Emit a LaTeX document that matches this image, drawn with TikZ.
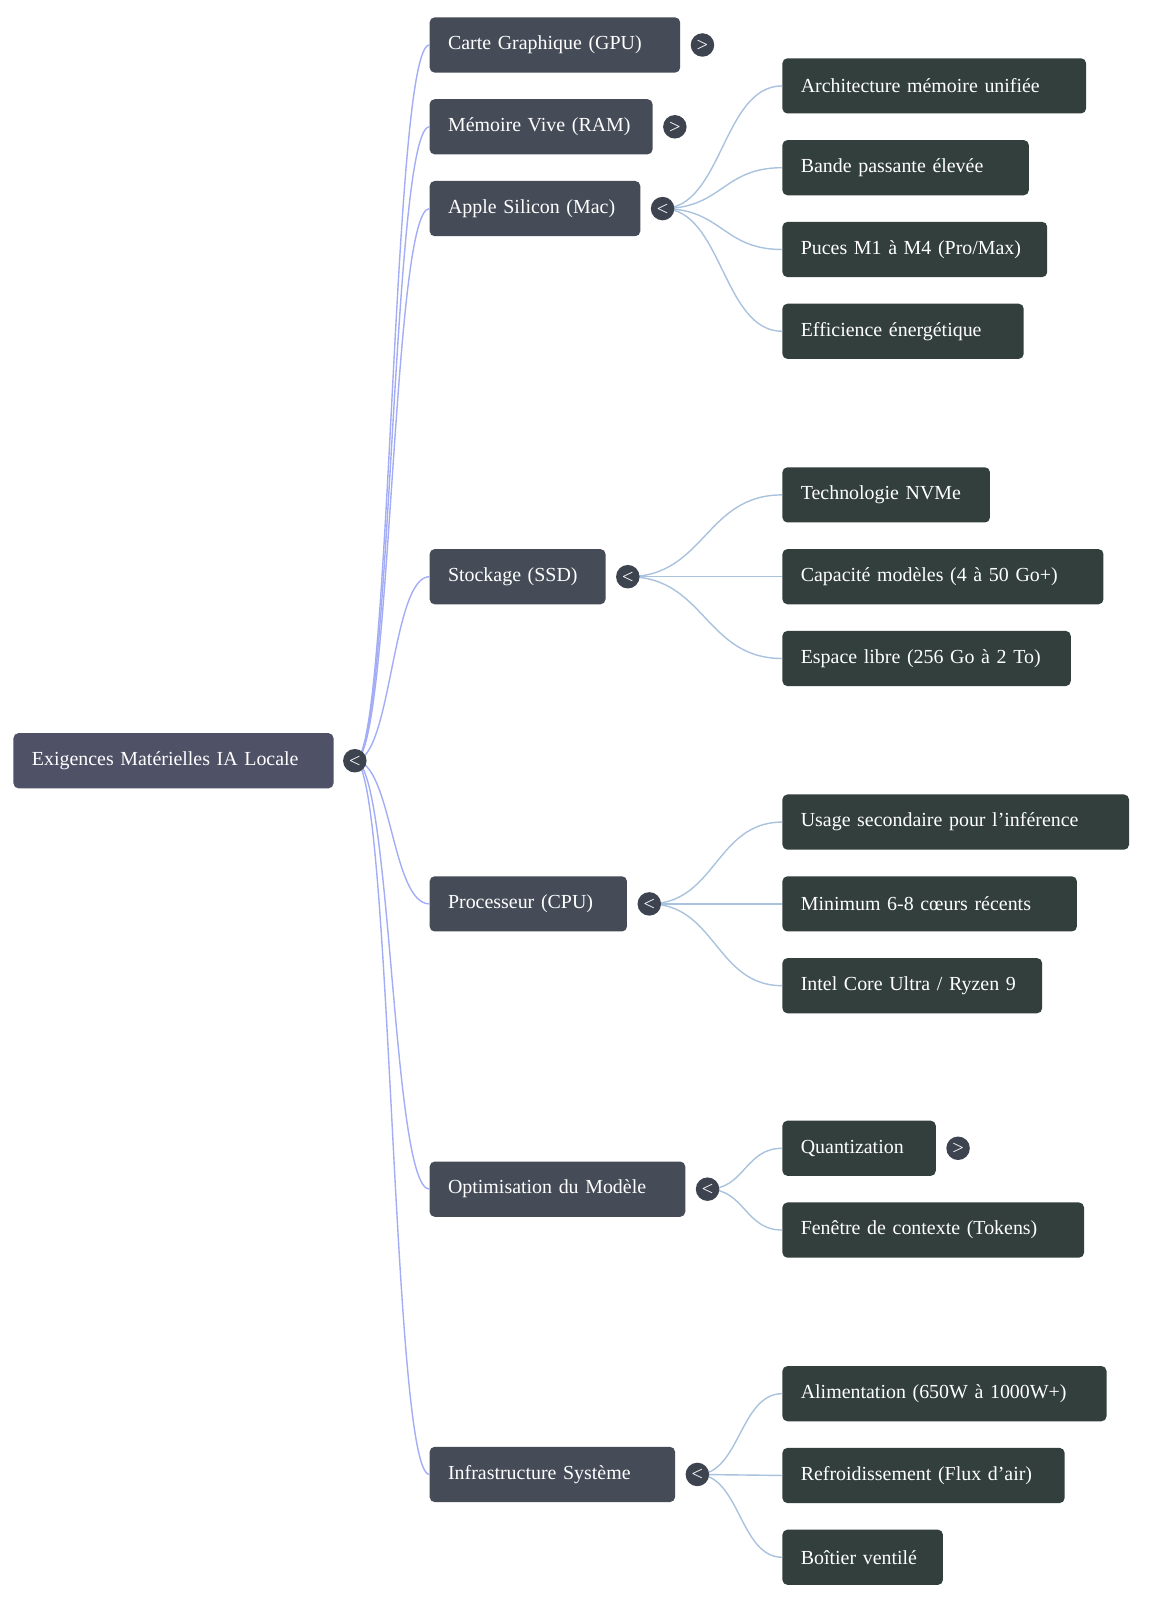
\documentclass[tikz,border=0pt]{standalone}
\usepackage{fontspec}
\setmainfont{Liberation Serif}
\definecolor{rootc}{HTML}{4F5166}
\definecolor{l1c}{HTML}{454B57}
\definecolor{l2c}{HTML}{323F3C}
\definecolor{e1}{HTML}{A3ADF5}
\definecolor{e2}{HTML}{A9C2DD}
\definecolor{tg}{HTML}{3E4350}
\newcommand\bx[6]{\node[#1,text width={(#5-#4-36)*1.0225bp}] (#2) at (#4,#6) {#3};}
\begin{document}
\begin{tikzpicture}[x=1.0225bp,y=-1.0225bp,
 box/.style={anchor=west,rounded corners=5bp,inner xsep=18.4bp,inner ysep=0pt,minimum height=55.2bp,text=white,font=\fontsize{20}{23}\selectfont,align=left},
 root/.style={box,fill=rootc},
 lone/.style={box,fill=l1c},
 ltwo/.style={box,fill=l2c},
 tog/.style={circle,fill=tg,inner sep=0pt,minimum size=23.5bp,text=white,font=\sffamily\bfseries\fontsize{14}{14}\selectfont},
 ea/.style={e1,line width=1.4bp},
 eb/.style={e2,line width=1.4bp}]
\path[use as bounding box] (0,0) rectangle (1148.2,1564.8);
\bx{root}{r}{Exigences Matérielles IA Locale}{13}{326}{744}
\bx{lone}{gpu}{Carte Graphique (GPU)}{420}{665}{44}
\bx{lone}{ram}{Mémoire Vive (RAM)}{420}{638}{124}
\bx{lone}{mac}{Apple Silicon (Mac)}{420}{626}{204}
\bx{lone}{ssd}{Stockage (SSD)}{420}{592}{564}
\bx{lone}{cpu}{Processeur (CPU)}{420}{613}{884}
\bx{lone}{opt}{Optimisation du Modèle}{420}{670}{1163}
\bx{lone}{inf}{Infrastructure Système}{420}{660}{1442}
\bx{ltwo}{a1}{Architecture mémoire unifiée}{765}{1062}{84}
\bx{ltwo}{a2}{Bande passante élevée}{765}{1006}{164}
\bx{ltwo}{a3}{Puces M1 à M4 (Pro/Max)}{765}{1024}{244}
\bx{ltwo}{a4}{Efficience énergétique}{765}{1001}{324}
\bx{ltwo}{s1}{Technologie NVMe}{765}{968}{484}
\bx{ltwo}{s2}{Capacité modèles (4 à 50 Go+)}{765}{1079}{564}
\bx{ltwo}{s3}{Espace libre (256 Go à 2 To)}{765}{1047}{644}
\bx{ltwo}{c1}{Usage secondaire pour l'inférence}{765}{1104}{804}
\bx{ltwo}{c2}{Minimum 6-8 cœurs récents}{765}{1053}{884}
\bx{ltwo}{c3}{Intel Core Ultra / Ryzen 9}{765}{1019}{964}
\bx{ltwo}{o1}{Quantization}{765}{915}{1123}
\bx{ltwo}{o2}{Fenêtre de contexte (Tokens)}{765}{1060}{1203}
\bx{ltwo}{i1}{Alimentation (650W à 1000W+)}{765}{1082}{1363}
\bx{ltwo}{i2}{Refroidissement (Flux d'air)}{765}{1041}{1443}
\bx{ltwo}{i3}{Boîtier ventilé}{765}{922}{1523}
% edges
\foreach \c/\y in {gpu/44,ram/124,mac/204,ssd/564,cpu/884,opt/1163,inf/1442}
  \draw[ea] (347,744) .. controls (383,744) and (383,\y) .. (\c.west);
\foreach \px/\py/\c/\y in {648/204/a1/84,648/204/a2/164,648/204/a3/244,648/204/a4/324,
  614/564/s1/484,614/564/s2/564,614/564/s3/644,
  635/884/c1/804,635/884/c2/884,635/884/c3/964,
  692/1163/o1/1123,692/1163/o2/1203,
  682/1442/i1/1363,682/1442/i2/1443,682/1442/i3/1523}
  \draw[eb] (\px,\py) .. controls ({(\px+765)/2},\py) and ({(\px+765)/2},\y) .. (\c.west);
% toggles
\node[tog] (tr) at (347,744) {<};
\node[tog] (tgpu) at (687,44) {>};
\node[tog] (tram) at (660,124) {>};
\node[tog] (tmac) at (648,204) {<};
\node[tog] (tssd) at (614,564) {<};
\node[tog] (tcpu) at (635,884) {<};
\node[tog] (topt) at (692,1163) {<};
\node[tog] (tinf) at (682,1442) {<};
\node[tog] (to1) at (937,1123) {>};
\end{tikzpicture}
\end{document}
